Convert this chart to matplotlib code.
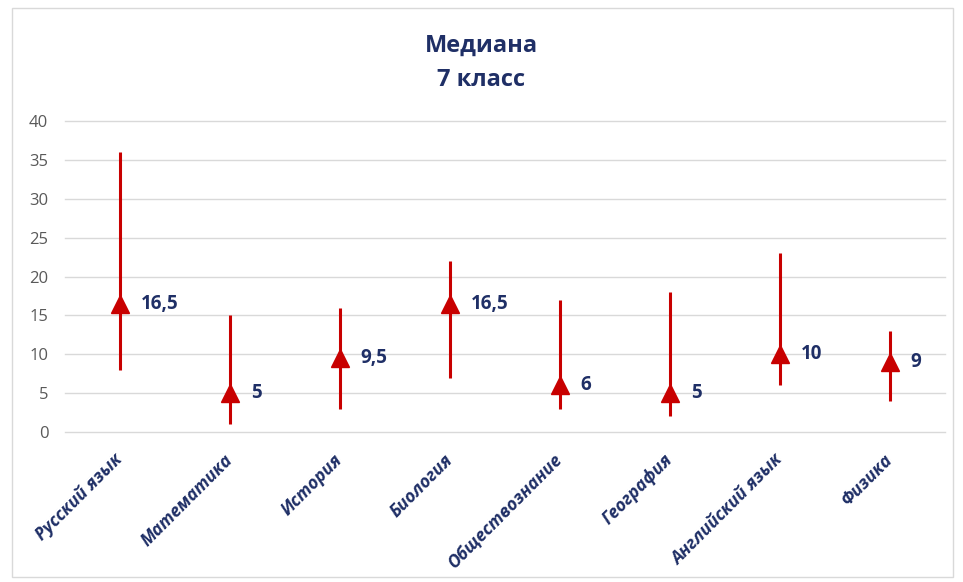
import matplotlib
matplotlib.use("Agg")
import matplotlib.pyplot as plt
from matplotlib.patches import Rectangle

plt.rcParams['font.family'] = ['Open Sans', 'DejaVu Sans']

# data
subjects = ["Русский язык", "Математика", "История", "Биология",
            "Обществознание", "География", "Английский язык", "Физика"]
low = [8, 1, 3, 7, 3, 2, 6, 4]
high = [36, 15, 16, 22, 17, 18, 23, 13]
median = [16.5, 5, 9.5, 16.5, 6, 5, 10, 9]

navy = "#1F2F66"
red = "#C80000"

fig = plt.figure(figsize=(9.63, 5.82), dpi=100)
ax = fig.add_axes([0.0675, 0.2577, 0.9138, 0.5344])

x = list(range(len(subjects)))
ax.vlines(x, low, high, color=red, lw=2.2, zorder=3)
ax.plot(x, median, ls="none", marker="^", ms=13, color=red, zorder=4)

for xi, m in zip(x, median):
    lab = ("%g" % m).replace(".", ",")
    ax.annotate(lab, (xi, m), xytext=(15, 0), textcoords="offset points",
                ha="left", va="center", fontsize=13.5, fontweight="bold", color=navy)

ax.set_xlim(-0.5, len(subjects) - 0.5)
ax.set_ylim(0, 40)
ax.set_yticks(range(0, 41, 5))
ax.grid(axis="y", color="#D9D9D9", lw=1)
for gl in ax.get_ygridlines():
    gl.set_clip_on(False)
ax.set_axisbelow(True)
for s in ax.spines.values():
    s.set_visible(False)
ax.tick_params(axis="both", length=0)
ax.tick_params(axis="y", labelsize=12, labelcolor="#595959", pad=12)

ax.set_xticks(x)
ax.set_xticklabels(subjects, rotation=45, ha="right", va="center",
                   rotation_mode="anchor", fontsize=12.5, fontweight="bold",
                   fontstyle="italic", color=navy)
ax.tick_params(axis="x", pad=18)

fig.text(0.5, 0.922, "Медиана", ha="center", va="center", fontsize=17,
         fontweight="bold", color=navy)
fig.text(0.5, 0.862, "7 класс", ha="center", va="center", fontsize=17,
         fontweight="bold", color=navy)

fig.patches.append(Rectangle((0.012, 0.008), 0.978, 0.978, transform=fig.transFigure,
                             fill=False, edgecolor="#D9D9D9", lw=1))

fig.savefig("out.png", dpi=100)
